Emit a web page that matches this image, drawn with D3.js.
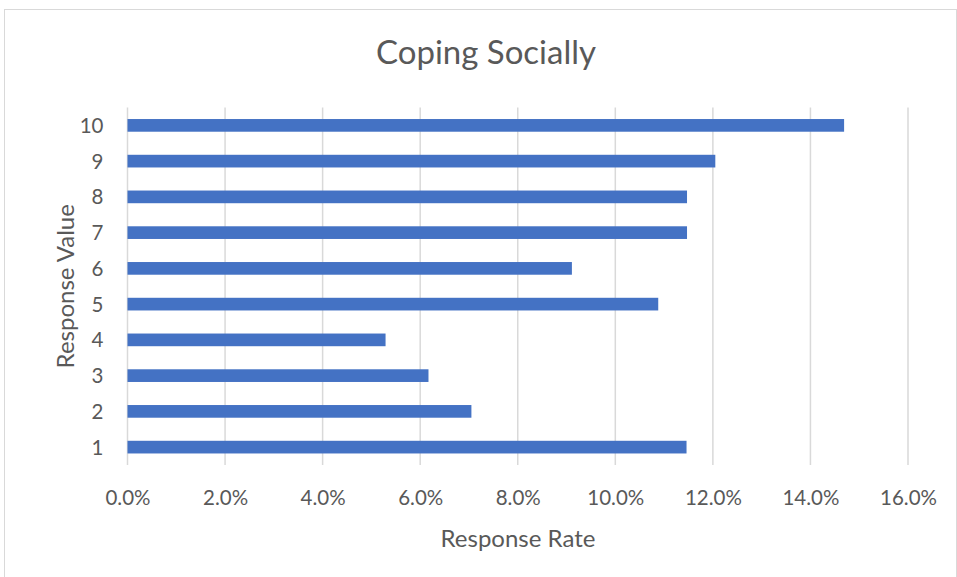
<!DOCTYPE html>
<html>
<head>
<meta charset="utf-8">
<script src="https://cdn.jsdelivr.net/npm/d3@7"></script>
<style>
  html, body { margin: 0; padding: 0; background: #fff; }
  svg text { font-family: Lato, "Open Sans", sans-serif; fill: #595959; }
</style>
</head>
<body>
<svg id="chart" width="957" height="577"></svg>
<script>
// Response values (categories) and the share of respondents choosing each
const categories = ["1", "2", "3", "4", "5", "6", "7", "8", "9", "10"];
const responseRates = [0.1146, 0.0705, 0.0617, 0.0529, 0.1088, 0.0911, 0.1147, 0.1147, 0.1205, 0.1469];
const xTicks = [0, 0.02, 0.04, 0.06, 0.08, 0.10, 0.12, 0.14, 0.16];

const title = "Coping Socially";
const xTitle = "Response Rate";
const yTitle = "Response Value";

const svg = d3.select("#chart");
const W = 957, H = 577;
const plot = { left: 127.5, right: 908, top: 107.5, bottom: 465 };

// chart border
svg.append("rect")
  .attr("x", 4.5).attr("y", 9.5)
  .attr("width", W - 5).attr("height", H - 9)
  .attr("fill", "#fff").attr("stroke", "#d9d9d9").attr("stroke-width", 1);

const x = d3.scaleLinear().domain([0, 0.16]).range([plot.left, plot.right]);
const y = d3.scaleBand()
  .domain(categories.slice().reverse())
  .range([plot.top, plot.bottom])
  .paddingInner(0.645).paddingOuter(0.3225);

// vertical gridlines
svg.append("g")
  .selectAll("line")
  .data(xTicks)
  .join("line")
  .attr("x1", d => x(d)).attr("x2", d => x(d))
  .attr("y1", plot.top).attr("y2", plot.bottom)
  .attr("stroke", "#d9d9d9").attr("stroke-width", 1.5);

// bars
svg.append("g")
  .selectAll("rect")
  .data(categories.map((c, i) => ({ c, v: responseRates[i] })))
  .join("rect")
  .attr("x", x(0))
  .attr("y", d => y(d.c))
  .attr("width", d => x(d.v) - x(0))
  .attr("height", y.bandwidth())
  .attr("fill", "#4472c4");

// x axis tick labels
const xAxis = d3.axisBottom(x).tickValues(xTicks).tickFormat(d3.format(".1%")).tickSize(0).tickPadding(0);
const gx = svg.append("g").attr("transform", `translate(0,${plot.bottom})`).call(xAxis);
gx.select(".domain").remove();
gx.selectAll("text")
  .attr("y", 40).attr("dy", "0")
  .style("font-size", "20.5px");

// y axis tick labels
const yAxis = d3.axisLeft(y).tickSize(0).tickPadding(0);
const gy = svg.append("g").attr("transform", `translate(${plot.left - 24},0)`).call(yAxis);
gy.select(".domain").remove();
gy.selectAll("text").style("font-size", "20.5px").attr("dy", "0.36em");

// titles
svg.append("text")
  .attr("x", 486).attr("y", 64)
  .attr("text-anchor", "middle")
  .style("font-size", "33px")
  .text(title);

svg.append("text")
  .attr("x", 518).attr("y", 546.5)
  .attr("text-anchor", "middle")
  .style("font-size", "24px")
  .text(xTitle);

svg.append("text")
  .attr("transform", `translate(74,${(plot.top + plot.bottom) / 2}) rotate(-90)`)
  .attr("text-anchor", "middle")
  .style("font-size", "24px")
  .text(yTitle);
</script>
</body>
</html>
